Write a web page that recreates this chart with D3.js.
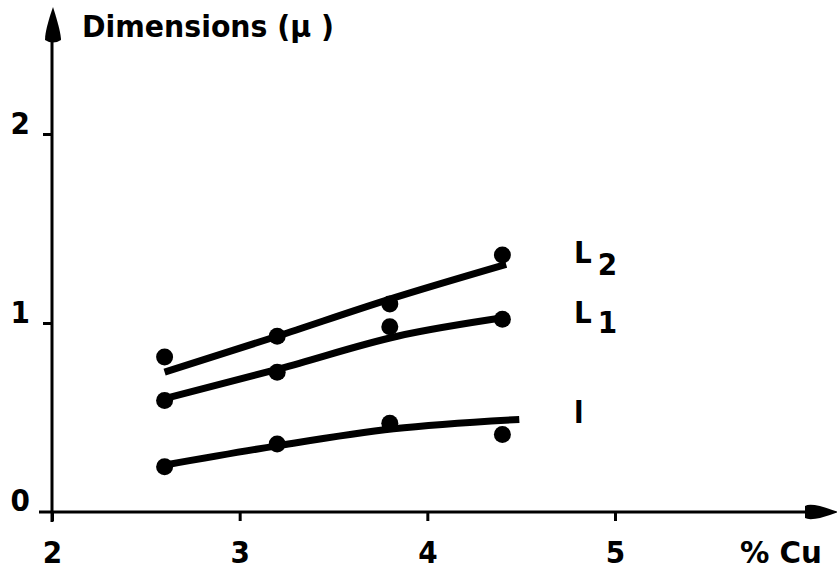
<!DOCTYPE html>
<html>
<head>
<meta charset="utf-8">
<script src="https://cdn.jsdelivr.net/npm/d3@7"></script>
<style>
  html, body { margin: 0; padding: 0; background: #fff; }
  svg text { font-family: "DejaVu Sans Condensed", "DejaVu Sans", sans-serif; font-stretch: condensed; font-weight: bold; fill: #000; }
</style>
</head>
<body>
<svg id="chart" width="837" height="571"></svg>
<script>
// ---- data ----
const xTicks = [2, 3, 4, 5];
const yTicks = [0, 1, 2];
const xLabel = "% Cu";
const yLabel = "Dimensions (µ )";
const seriesNames = ["L2", "L1", "l"];

const cuPoints = [2.6, 3.2, 3.8, 4.4];
const L2Points = [0.82, 0.93, 1.10, 1.36];
const L1Points = [0.59, 0.74, 0.98, 1.02];
const lPoints  = [0.24, 0.36, 0.47, 0.41];

const L2CurveX = [2.6, 3.2, 3.78, 4.42];
const L2CurveY = [0.74, 0.93, 1.12, 1.31];
const L1CurveX = [2.6, 3.22, 3.84, 4.42];
const L1CurveY = [0.60, 0.76, 0.93, 1.03];
const lCurveX  = [2.61, 3.2, 3.82, 4.49];
const lCurveY  = [0.25, 0.35, 0.44, 0.49];

// ---- drawing ----
const FONT = "'DejaVu Sans Condensed', 'DejaVu Sans', sans-serif";
const svg = d3.select("#chart");
const x = d3.scaleLinear().domain([2, 5]).range([52, 615]);
const y = d3.scaleLinear().domain([0, 2]).range([512, 134]);

// x axis
const xAxis = svg.append("g").attr("transform", `translate(0,${y(0)})`)
  .call(d3.axisBottom(x).tickValues(xTicks).tickSize(9).tickFormat(d3.format("d")));
xAxis.select(".domain").remove();
xAxis.selectAll(".tick line").attr("stroke", "#000").attr("stroke-width", 3);
xAxis.selectAll(".tick text").attr("y", 51).attr("dy", 0)
  .style("font-size", "31px").style("font-family", FONT).style("font-weight", "bold");

svg.append("line").attr("x1", 39).attr("x2", 815).attr("y1", y(0)).attr("y2", y(0))
  .attr("stroke", "#000").attr("stroke-width", 3);
svg.append("path")
  .attr("d", `M805,${y(0)-6} Q812,${y(0)-10} 838,${y(0)} Q812,${y(0)+10} 805,${y(0)+6} Z`)
  .attr("fill", "#000");

// y axis
const yAxis = svg.append("g").attr("transform", `translate(${x(2)},0)`)
  .call(d3.axisLeft(y).tickValues(yTicks.filter(d => d > 0)).tickSize(9).tickFormat(d3.format("d")));
yAxis.select(".domain").remove();
yAxis.selectAll(".tick line").attr("stroke", "#000").attr("stroke-width", 3);
yAxis.selectAll(".tick text").attr("x", -22).attr("dy", "-1px").attr("text-anchor", "end")
  .style("font-size", "31px").style("font-family", FONT).style("font-weight", "bold");

svg.append("text").attr("x", 30).attr("y", y(0) - 1)
  .attr("text-anchor", "end").style("font-size", "31px").text("0");

svg.append("line").attr("x1", x(2)).attr("x2", x(2)).attr("y1", y(0) + 10).attr("y2", 30)
  .attr("stroke", "#000").attr("stroke-width", 3);
svg.append("path")
  .attr("d", `M${x(2)+1},7 Q${x(2)+9},32 ${x(2)+9},40 Q${x(2)+1},45 ${x(2)-7},40 Q${x(2)-7},30 ${x(2)+1},7 Z`)
  .attr("fill", "#000");

// axis titles
svg.append("text").attr("x", 82).attr("y", 37).style("font-size", "30px")
  .attr("textLength", 252).attr("lengthAdjust", "spacingAndGlyphs").text(yLabel);
svg.append("text").attr("x", 740).attr("y", 563)
  .attr("textLength", 82).attr("lengthAdjust", "spacingAndGlyphs")
  .style("font-size", "31px").text(xLabel);

// curves
const line = d3.line().x(d => x(d[0])).y(d => y(d[1])).curve(d3.curveMonotoneX);
const curves = [
  d3.zip(L2CurveX, L2CurveY),
  d3.zip(L1CurveX, L1CurveY),
  d3.zip(lCurveX, lCurveY)
];
svg.append("g").selectAll("path").data(curves).join("path")
  .attr("d", line).attr("fill", "none").attr("stroke", "#000")
  .attr("stroke-width", 7).attr("stroke-linecap", "butt");

// points
const pts = [L2Points, L1Points, lPoints].flatMap(s => s.map((v, i) => [cuPoints[i], v]));
svg.append("g").selectAll("circle").data(pts).join("circle")
  .attr("cx", d => x(d[0])).attr("cy", d => y(d[1])).attr("r", 8.5).attr("fill", "#000");

// series labels
const lbl = svg.append("g");
const l2 = lbl.append("text").attr("x", 574).attr("y", 263).style("font-size", "31px");
l2.append("tspan").text("L");
l2.append("tspan").attr("dx", 6).attr("dy", 12).text("2");
const l1 = lbl.append("text").attr("x", 574).attr("y", 323).style("font-size", "31px");
l1.append("tspan").text("L");
l1.append("tspan").attr("dx", 6).attr("dy", 10).text("1");
lbl.append("text").attr("x", 574).attr("y", 423).style("font-size", "31px").text("l");
</script>
</body>
</html>
